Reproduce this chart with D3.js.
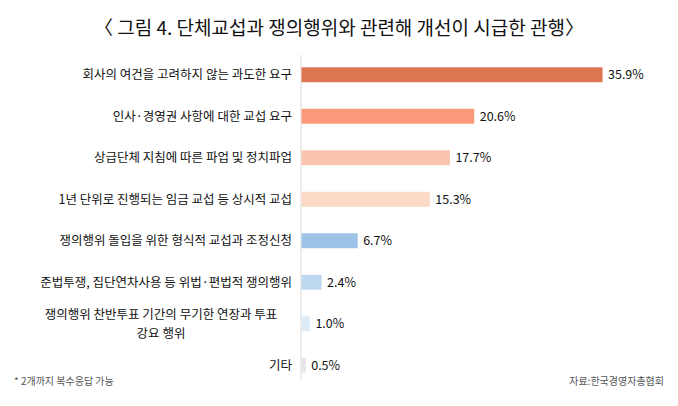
<!DOCTYPE html><html><head><meta charset="utf-8">
<script src="https://cdn.jsdelivr.net/npm/d3@7"></script>
<style>body{margin:0;background:#fff}</style></head><body><svg width="678" height="406"></svg>
<script>
const categories=[["회사의 여건을 고려하지 않는 과도한 요구"],["인사·경영권 사항에 대한 교섭 요구"],["상급단체 지침에 따른 파업 및 정치파업"],["1년 단위로 진행되는 임금 교섭 등 상시적 교섭"],["쟁의행위 돌입을 위한 형식적 교섭과 조정신청"],["준법투쟁, 집단연차사용 등 위법·편법적 쟁의행위"],["쟁의행위 찬반투표 기간의 무기한 연장과 투표","강요 행위"],["기타"]];
const values=[35.9,20.6,17.7,15.3,6.7,2.4,1.0,0.5];
const colors=["#DD7550","#FB9A7A","#FAC3AE","#FBD9C5","#9DC3E6","#BDD7EE","#DDEBF7","#E6E6E6"];
const svg=d3.select("svg");const F="'Noto Sans CJK KR','Noto Sans',sans-serif";
svg.append("text").attr("x",339).attr("y",35).attr("text-anchor","middle").attr("font-family",F).attr("font-size",19).attr("fill","#111").text("〈 그림 4. 단체교섭과 쟁의행위와 관련해 개선이 시급한 관행〉");
const x=d3.scaleLinear().domain([0,35.9]).range([301,602]);
const y=d3.scaleBand().domain(d3.range(8)).range([54,386]).paddingInner(0.64).paddingOuter(0.32);
svg.append("line").attr("x1",301).attr("x2",301).attr("y1",55).attr("y2",380).attr("stroke","#d9d9d9");
const g=svg.selectAll(".r").data(values).enter().append("g");
g.append("rect").attr("x",x(0)+0.5).attr("y",(d,i)=>y(i)).attr("height",y.bandwidth()).attr("width",d=>x(d)-x(0)).attr("fill",(d,i)=>colors[i]);
g.append("text").attr("x",d=>x(d)+6).attr("y",(d,i)=>y(i)+y.bandwidth()/2+4.5).attr("font-family",F).attr("font-size",12.5).attr("fill","#111").text(d=>d.toFixed(1)+"%");
g.each(function(d,i){const t=d3.select(this).append("text").attr("font-family",F).attr("font-size",12.5).attr("fill","#111");
 const lines=categories[i];const cy=y(i)+y.bandwidth()/2+4.5-(lines.length-1)*9.5;
 lines.forEach((s,k)=>t.append("tspan").attr("y",cy+k*19).text(s));
 if(lines.length>1){t.attr("text-anchor","middle").selectAll("tspan").attr("x",161);}else t.attr("text-anchor","end").selectAll("tspan").attr("x",292);});
svg.append("text").attr("x",14).attr("y",385).attr("font-family",F).attr("font-size",10).attr("fill","#555").text("* 2개까지 복수응답 가능");
svg.append("text").attr("x",664).attr("y",385).attr("text-anchor","end").attr("font-family",F).attr("font-size",10).attr("fill","#555").text("자료:한국경영자총협회");
</script></body></html>
